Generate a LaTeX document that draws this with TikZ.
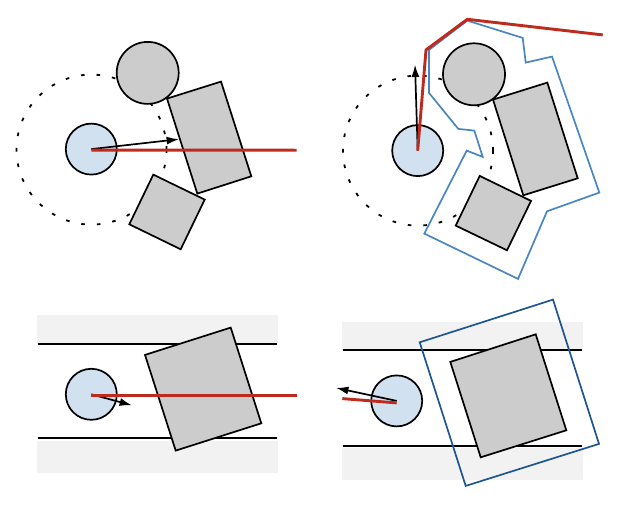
\documentclass[tikz,border=0pt]{standalone}
\usepackage{xcolor}
\usetikzlibrary{arrows.meta}
\definecolor{robotblue}{HTML}{D2E1F0}
\definecolor{obstgray}{HTML}{CCCCCC}
\definecolor{roadgray}{HTML}{F2F2F2}
\definecolor{pathred}{HTML}{BE2A1E}
\definecolor{hulllight}{HTML}{4A86C2}
\definecolor{hulldark}{HTML}{1F5590}
\begin{document}
\begin{tikzpicture}[x=0.5pt,y=-0.5pt,line width=0.85pt]

        \tikzset{edge/.style = {-{Latex[length=6.2pt,width=4pt]}, black},
          robot/.style = {circle, draw=black, fill=robotblue, inner sep=0pt, minimum size=25.5pt},
          disc/.style = {circle, draw=black, fill=obstgray, inner sep=0pt, minimum size=31pt},
          ring/.style = {circle, draw=black, inner sep=0pt, minimum size=75pt, line width=0.9pt, dash pattern=on 1.8pt off 6pt},
          obst/.style = {draw=black, fill=obstgray, line join=miter},
          road/.style = {fill=roadgray, draw=none},
          wall/.style = {draw=black, line width=1pt},
          plan/.style = {draw=pathred, line width=1.45pt, line join=round},
          hull/.style = {draw=hulllight},
          hullb/.style = {draw=hulldark}}
        \useasboundingbox (0,0) rectangle (630,508);

        \begin{scope}[yshift=-0.3pt]
        % road backgrounds
        \fill[road] (36.7,314) rectangle (277.7,344);
        \fill[road] (36.7,440.5) rectangle (277.7,472.3);
        \fill[road] (341.7,321) rectangle (582.7,350);
        \fill[road] (341.7,447.5) rectangle (582.7,479);
        \coordinate (wa1) at (37.5,343.4);
        \coordinate (wa2) at (277,343.4);
        \coordinate (wb1) at (37.5,437.4);
        \coordinate (wb2) at (277,437.4);
        \coordinate (wc1) at (342.5,349.4);
        \coordinate (wc2) at (582,349.4);
        \coordinate (wd1) at (342.5,445.4);
        \coordinate (wd2) at (582,445.4);
        \draw[wall] (wa1) -- (wa2);
        \draw[wall] (wb1) -- (wb2);
        \draw[wall] (wc1) -- (wc2);
        \draw[wall] (wd1) -- (wd2);

        % hulls
        \draw[hull] (482.7,156.3) -- (466.7,150) -- (424.3,233) -- (518,278.3) -- (547,210.7)
          -- (599.3,192) -- (552,56) -- (525.7,62) -- (522.7,37.3) -- (467.3,20) -- (429,49.3)
          -- (429,92.3) -- (458.3,128.3) -- (474.3,130) -- cycle;
        \draw[hullb] (419.7,341.7) -- (553,299) -- (599,443.3) -- (465.7,485.3) -- cycle;

        % vertices
        \node[ring] (ra) at (91.5,149) {};
        \node[ring] (rb) at (418,150) {};
        \node[robot] (a) at (91.3,148.5) {};
        \node[robot] (b) at (417.7,150) {};
        \node[robot] (c) at (91.3,393.7) {};
        \node[robot] (d) at (396.7,400.3) {};
        \node[disc] (da) at (147.7,72.3) {};
        \node[disc] (db) at (474,73.7) {};

        % obstacles
        \draw[obst] (167,98) -- (221,81) -- (251.3,175.7) -- (197.3,193) -- cycle;
        \draw[obst] (153.3,174) -- (204.7,199) -- (180.7,248.7) -- (129.3,223.7) -- cycle;
        \draw[obst] (493,99) -- (547.3,82) -- (577.7,177.7) -- (523.3,194.7) -- cycle;
        \draw[obst] (479.7,175.3) -- (531,200.3) -- (507,249.7) -- (455.7,225) -- cycle;
        \draw[obst] (145,354.3) -- (230.7,327) -- (261.3,422.7) -- (175.7,450) -- cycle;
        \draw[obst] (450.3,361.3) -- (535.7,333.7) -- (566.3,429.7) -- (480.7,456.7) -- cycle;

        % free ends
        \coordinate (ae) at (179,138.6);
        \coordinate (be) at (415,64);
        \coordinate (ce) at (132,404.7);
        \coordinate (de) at (336,387.3);
        \coordinate (ap) at (296.7,149.6);
        \coordinate (bp) at (602.7,34.3);
        \coordinate (cp) at (296.7,394.7);
        \coordinate (dp) at (342.3,398);

        %edges
        \draw[edge] (a.center) to (ae);
        \draw[edge] (b.center) to (be);
        \draw[edge] (c.center) to (ce);
        \draw[edge] (d.center) to (de);
        \draw[plan] ([yshift=-0.5pt]a.center) to (ap);
        \draw[plan] (b.center) -- (426,49.3) -- (467.3,18.7) -- (bp);
        \draw[plan] ([yshift=-0.5pt]c.center) to (cp);
        \draw[plan] ([yshift=-1pt]d.center) to (dp);
        \end{scope}

\end{tikzpicture}
\end{document}
